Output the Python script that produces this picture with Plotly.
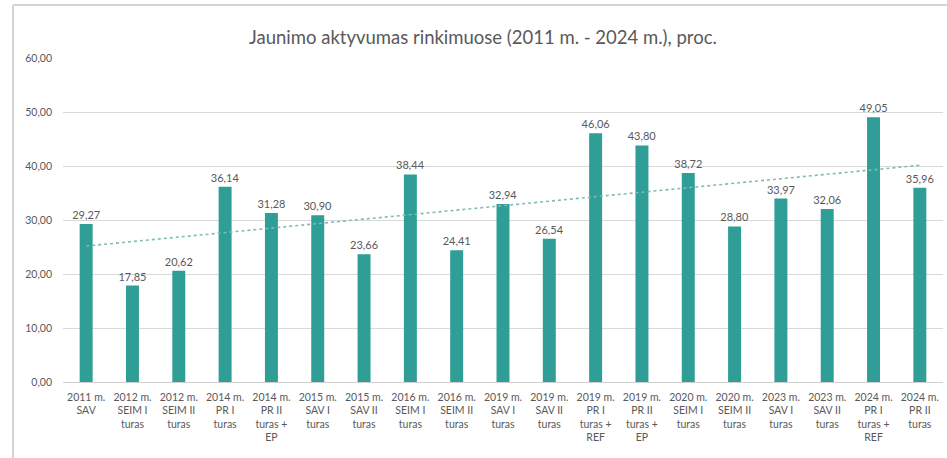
import numpy as np
import plotly.graph_objects as go

categories = [
    "2011 m.<br>SAV",
    "2012 m.<br>SEIM I<br>turas",
    "2012 m.<br>SEIM II<br>turas",
    "2014 m.<br>PR I<br>turas",
    "2014 m.<br>PR II<br>turas +<br>EP",
    "2015 m.<br>SAV I<br>turas",
    "2015 m.<br>SAV II<br>turas",
    "2016 m.<br>SEIM I<br>turas",
    "2016 m.<br>SEIM II<br>turas",
    "2019 m.<br>SAV I<br>turas",
    "2019 m.<br>SAV II<br>turas",
    "2019 m.<br>PR I<br>turas +<br>REF",
    "2019 m.<br>PR II<br>turas +<br>EP",
    "2020 m.<br>SEIM I<br>turas",
    "2020 m.<br>SEIM II<br>turas",
    "2023 m.<br>SAV I<br>turas",
    "2023 m.<br>SAV II<br>turas",
    "2024 m.<br>PR I<br>turas +<br>REF",
    "2024 m.<br>PR II<br>turas",
]
values = [29.27, 17.85, 20.62, 36.14, 31.28, 30.90, 23.66, 38.44, 24.41, 32.94,
          26.54, 46.06, 43.80, 38.72, 28.80, 33.97, 32.06, 49.05, 35.96]
y_ticks = [0, 10, 20, 30, 40, 50, 60]
title_text = "Jaunimo aktyvumas rinkimuose (2011 m. - 2024 m.), proc."

# linear trendline (like Excel's)
idx = np.arange(1, len(values) + 1)
slope, intercept = np.polyfit(idx, values, 1)
trend = slope * idx + intercept

FONT = "Lato"
GRAY = "#595959"
TEAL = "#2E9E96"

fig = go.Figure()
fig.add_trace(go.Bar(
    x=categories, y=values,
    marker=dict(color=TEAL, line=dict(width=0)),
    texttemplate="%{y:.2f}", textposition="outside",
    textfont=dict(family=FONT, size=11, color=GRAY),
    constraintext="none",
    cliponaxis=False,
    showlegend=False,
))
fig.add_trace(go.Scatter(
    x=categories, y=trend, mode="lines",
    line=dict(color="#7DBDB6", width=1.6, dash="dot"),
    showlegend=False,
))

L, R, T, B = 63, 4, 58, 76
W, H = 947, 458
pw, ph = W - L - R, H - T - B
x0 = (13 - L) / pw
y_top = (H - B - 5) / ph
y_bot = (H - B - H) / ph
x1 = (W - L) / pw

fig.update_layout(
    width=W, height=H,
    margin=dict(l=L, r=R, t=T, b=B),
    paper_bgcolor="white", plot_bgcolor="white",
    separators=", ",
    bargap=0.72,
    title=dict(text=title_text, x=0.51, xanchor="center", y=0.918, yanchor="middle",
               font=dict(family=FONT, size=18.5, color=GRAY)),
    font=dict(family=FONT, color=GRAY),
    xaxis=dict(
        tickfont=dict(family=FONT, size=10.5, color=GRAY),
        showgrid=False, showline=False, ticks="", tickangle=0,
        ticklabelstandoff=7,
    ),
    yaxis=dict(
        range=[0, 60], tickvals=y_ticks, tickformat=".2f",
        tickfont=dict(family=FONT, size=10.5, color=GRAY),
        showgrid=True, gridcolor="#D9D9D9", gridwidth=1,
        zeroline=True, zerolinecolor="#D0D0D0", zerolinewidth=1,
        showline=False, ticks="", ticklabelstandoff=10,
    ),
    shapes=[
        dict(type="line", xref="paper", yref="paper", x0=x0, x1=x0, y0=y_bot, y1=y_top,
             line=dict(color="#D4D4D4", width=2)),
        dict(type="line", xref="paper", yref="paper", x0=x0, x1=x1, y0=y_top, y1=y_top,
             line=dict(color="#D4D4D4", width=2)),
    ],
)

fig.write_html("out.html", config={"displayModeBar": False},
               post_script="document.body.style.margin='0';")
